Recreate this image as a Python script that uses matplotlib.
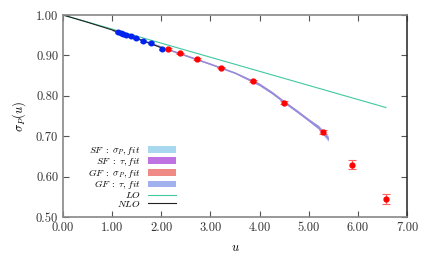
import matplotlib
matplotlib.use("Agg")
import matplotlib.pyplot as plt
import numpy as np

plt.rcParams['font.family'] = 'serif'
plt.rcParams['font.serif'] = ['cmr10', 'DejaVu Serif']
plt.rcParams['mathtext.fontset'] = 'cm'
plt.rcParams['axes.formatter.use_mathtext'] = True

# step-scaling data
u_sf = [1.11, 1.18, 1.23, 1.28, 1.38, 1.49, 1.62, 1.79, 2.01]
sig_sf = [0.957, 0.955, 0.952, 0.950, 0.948, 0.942, 0.936, 0.930, 0.915]
err_sf = [0.002, 0.002, 0.002, 0.002, 0.002, 0.002, 0.002, 0.002, 0.002]

u_gf = [2.13, 2.38, 2.72, 3.21, 3.86, 4.50, 5.30, 5.88, 6.57]
sig_gf = [0.916, 0.905, 0.891, 0.870, 0.836, 0.783, 0.711, 0.629, 0.545]
err_gf = [0.002, 0.002, 0.002, 0.002, 0.003, 0.003, 0.005, 0.011, 0.013]

# fit curve
u_fit = [1.0, 1.5, 2.0, 2.5, 3.0, 3.5, 4.0, 4.25, 4.5, 4.75, 5.0, 5.2, 5.4]
sig_fit = [0.963, 0.943, 0.921, 0.900, 0.879, 0.857, 0.828, 0.808, 0.785, 0.763, 0.740, 0.722, 0.694]
err_fit_sf = [0.002, 0.002, 0.002, 0.002, 0.002, 0.002, 0.003, 0.003, 0.003, 0.003, 0.003, 0.004, 0.004]
err_fit_gf = [0.001, 0.001, 0.001, 0.001, 0.001, 0.001, 0.002, 0.002, 0.002, 0.003, 0.003, 0.005, 0.008]

# perturbative curves
u_lo = [0.0, 6.57]
sig_lo = [1.0, 0.771]
u_nlo = [0.0, 0.5, 1.0, 1.5, 2.0]
sig_nlo = [1.0, 0.982, 0.963, 0.942, 0.919]

u = np.array(u_fit)
s = np.array(sig_fit)
e1 = np.array(err_fit_sf)
e2 = np.array(err_fit_gf)

fig = plt.figure(figsize=(4.3, 2.57), dpi=100)
ax = fig.add_axes([63/430, 1-217/257, 344/430, 202/257])

ax.fill_between(u, s - e1, s + e1, color='#a8d8f0', lw=0, label=r'$SF\;:\;\sigma_P, fit$')
ax.fill_between(u, s - e1, s + e1, color='#a47ad0', lw=0, label=r'$SF\;:\;\tau, fit$')
ax.fill_between(u, s - e1, s + e1, color='#f08a84', lw=0, alpha=0.0, label=r'$GF\;:\;\sigma_P, fit$')
ax.fill_between(u, s - e2, s + e2, color='#8fa4ec', lw=0, alpha=0.45, label=r'$GF\;:\;\tau, fit$')
ax.plot(u_lo, sig_lo, color='#40c8a0', lw=0.8, label=r'$LO$')
ax.plot(u_nlo, sig_nlo, color='#222222', lw=0.8, label=r'$NLO$')

ax.errorbar(u_sf, sig_sf, yerr=err_sf, fmt='o', color='#0022ee', ms=3.3,
            ecolor='#0022ee', capsize=2, elinewidth=0.8, zorder=5)
ax.errorbar(u_gf, sig_gf, yerr=err_gf, fmt='o', color='#ff0000', ms=3.5,
            ecolor='#ff6060', capsize=3, elinewidth=0.8, capthick=0.8, zorder=5)

ax.set_xlim(0, 7)
ax.set_ylim(0.5, 1.0)
ax.set_xticks(np.arange(0, 8, 1))
ax.set_xticklabels(['%.2f' % v for v in range(8)], fontsize=9)
yt = [0.5, 0.6, 0.7, 0.8, 0.9, 1.0]
ax.set_yticks(yt)
ax.set_yticklabels(['%.2f' % v for v in yt], fontsize=9)
ax.tick_params(direction='in', top=True, right=True, length=4, width=0.8,
               colors='#555555', labelcolor='#333333')
for sp in ax.spines.values():
    sp.set_color('#888888')
    sp.set_linewidth(1.2)
ax.spines['right'].set_color('#333333')

ax.set_xlabel(r'$u$', fontsize=9, labelpad=6)
ax.set_ylabel(r'$\sigma_P(u)$', fontsize=9, labelpad=6)

leg = ax.legend(loc='center right', bbox_to_anchor=(176/430, 1-177/257),
                bbox_transform=fig.transFigure, frameon=False, markerfirst=False,
                fontsize=7.0, handlelength=2.9, handletextpad=0.75, labelspacing=-0.13,
                borderpad=0, borderaxespad=0)
# right-align the label column
for col in leg._legend_box._children[-1]._children:
    col.align = 'right'
leg.legend_handles[1].set_facecolor('#bf72e2')
leg.legend_handles[2].set_alpha(1.0)
leg.legend_handles[3].set_alpha(0.85)

fig.savefig('out.png', dpi=100)
